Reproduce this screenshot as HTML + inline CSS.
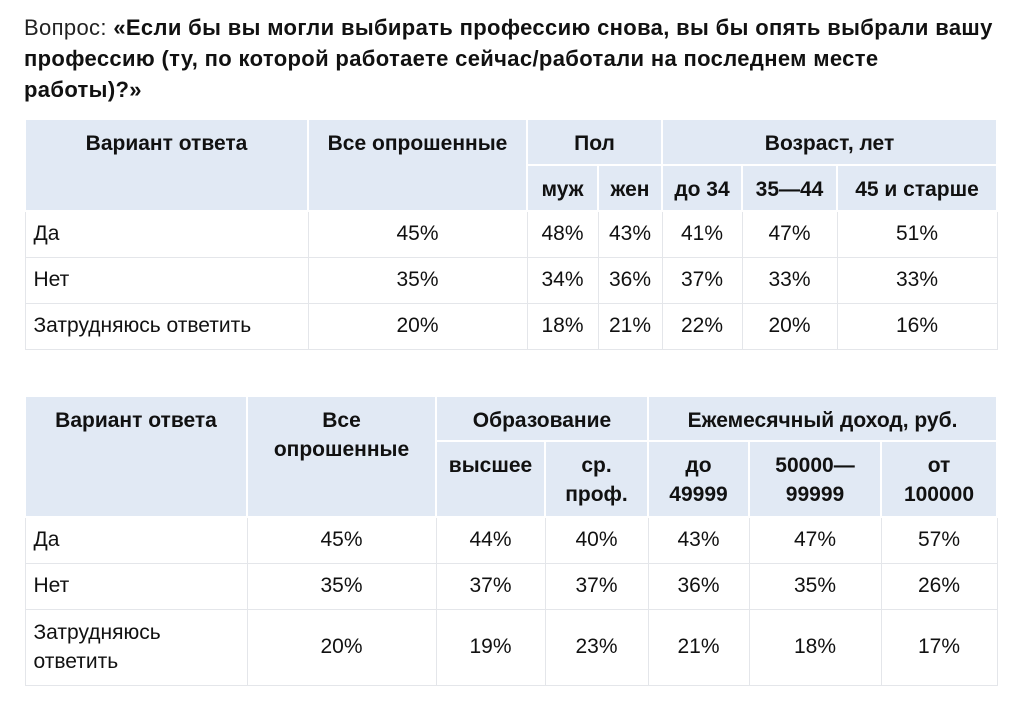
<!DOCTYPE html>
<html><head><meta charset="utf-8"><style>
body{margin:0;background:#fff;width:1012px;height:711px;overflow:hidden;font-family:"Liberation Sans","DejaVu Sans",sans-serif;color:#111;}
.t{position:absolute;left:24px;font-size:22px;letter-spacing:0.35px;line-height:31px;white-space:nowrap}
.t b{font-weight:bold}
.l{font-weight:normal;color:#222}
table{position:absolute;left:24px;border-collapse:collapse;table-layout:fixed;font-size:21px;letter-spacing:0px}
td,th{padding:0 6px;text-align:center;vertical-align:middle;border:1px solid #e4e6ea;}
th{background:#e1e9f4;border:2px solid #fff;font-weight:bold;vertical-align:top;padding-top:9px;line-height:29px}
td.a{text-align:left;padding-left:8px}
</style></head><body>
<div class="t" style="top:12px"><span class="l">Вопрос: </span><b>«Если бы вы могли выбирать профессию снова, вы бы опять выбрали вашу</b></div>
<div class="t" style="top:43px"><b>профессию (ту, по которой работаете сейчас/работали на последнем месте</b></div>
<div class="t" style="top:74px"><b>работы)?»</b></div>

<table style="top:118px;width:972px">
<colgroup><col style="width:283px"><col style="width:219px"><col style="width:71px"><col style="width:64px"><col style="width:80px"><col style="width:95px"><col style="width:160px"></colgroup>
<tr style="height:46px"><th rowspan="2">Вариант ответа</th><th rowspan="2">Все опрошенные</th><th colspan="2">Пол</th><th colspan="3">Возраст, лет</th></tr>
<tr style="height:46px"><th>муж</th><th>жен</th><th>до 34</th><th>35—44</th><th>45 и старше</th></tr>
<tr style="height:46px"><td class="a">Да</td><td>45%</td><td>48%</td><td>43%</td><td>41%</td><td>47%</td><td>51%</td></tr>
<tr style="height:46px"><td class="a">Нет</td><td>35%</td><td>34%</td><td>36%</td><td>37%</td><td>33%</td><td>33%</td></tr>
<tr style="height:46px"><td class="a">Затрудняюсь ответить</td><td>20%</td><td>18%</td><td>21%</td><td>22%</td><td>20%</td><td>16%</td></tr>
</table>

<table style="top:395px;width:972px">
<colgroup><col style="width:222px"><col style="width:189px"><col style="width:109px"><col style="width:103px"><col style="width:101px"><col style="width:132px"><col style="width:116px"></colgroup>
<tr style="height:45px"><th rowspan="2">Вариант ответа</th><th rowspan="2">Все<br>опрошенные</th><th colspan="2">Образование</th><th colspan="3">Ежемесячный доход, руб.</th></tr>
<tr style="height:76px"><th>высшее</th><th>ср.<br>проф.</th><th>до<br>49999</th><th>50000—<br>99999</th><th>от<br>100000</th></tr>
<tr style="height:46px"><td class="a">Да</td><td>45%</td><td>44%</td><td>40%</td><td>43%</td><td>47%</td><td>57%</td></tr>
<tr style="height:46px"><td class="a">Нет</td><td>35%</td><td>37%</td><td>37%</td><td>36%</td><td>35%</td><td>26%</td></tr>
<tr style="height:76px"><td class="a" style="line-height:29px">Затрудняюсь<br>ответить</td><td>20%</td><td>19%</td><td>23%</td><td>21%</td><td>18%</td><td>17%</td></tr>
</table>
</body></html>
